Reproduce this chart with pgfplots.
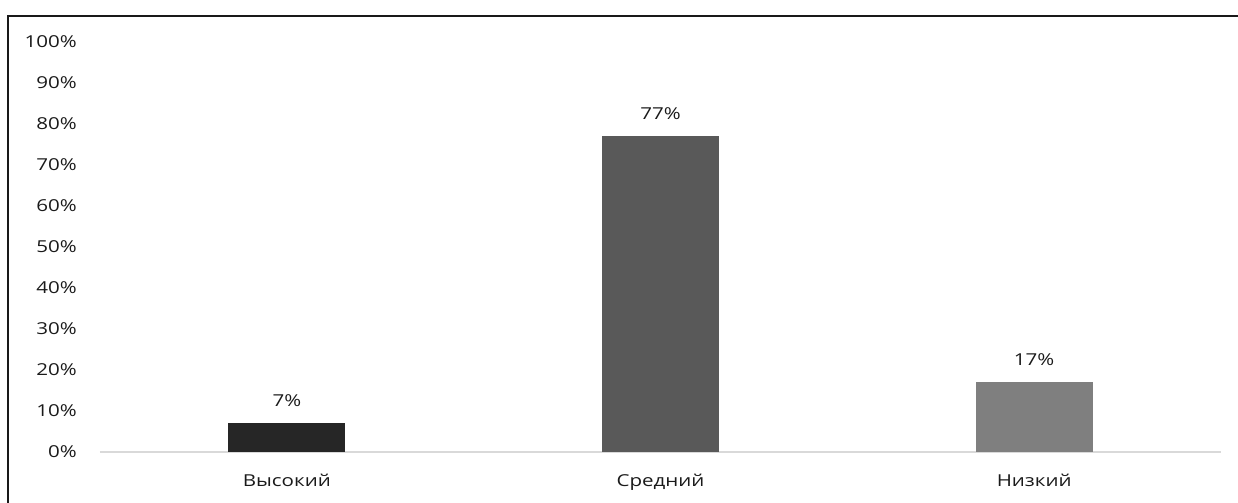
\documentclass[border=0pt]{standalone}
\usepackage{fontspec}
\setmainfont[FakeStretch=1.25]{Open Sans}
\usepackage{pgfplots}
\pgfplotsset{compat=1.18}
\definecolor{barA}{HTML}{262626}
\definecolor{barB}{HTML}{595959}
\definecolor{barC}{HTML}{7F7F7F}
\definecolor{baseline}{HTML}{D9D9D9}
\definecolor{txt}{HTML}{1A1A1A}
\newcommand{\lblfont}{\fontsize{16.5}{19}\selectfont}
\begin{document}
\begin{tikzpicture}[x=1bp,y=1bp]
\useasboundingbox (-100,-51) rectangle (1138,452);
% chart frame
\draw[line width=1.6bp, color=black!90] (-91.7,-60) -- (-91.7,436.2) -- (1150,436.2);
\begin{axis}[
  at={(0,0)}, anchor=south west,
  scale only axis,
  width=1121bp, height=410bp,
  xmin=-0.5, xmax=2.5,
  ymin=0, ymax=100,
  ybar, bar width=117bp, bar shift=0pt,
  axis x line*=bottom,
  axis y line*=left,
  x axis line style={-, draw=baseline, line width=1.2bp},
  y axis line style={draw=none},
  major tick length=0pt,
  xtick={0,1,2},
  xticklabels={Высокий,Средний,Низкий},
  ytick={0,10,...,100},
  yticklabels={0\%,10\%,20\%,30\%,40\%,50\%,60\%,70\%,80\%,90\%,100\%},
  x tick label style={font=\lblfont, text=txt, inner sep=0pt, anchor=north, yshift=-22bp},
  y tick label style={font=\lblfont, text=txt, inner sep=0pt, anchor=east, xshift=-23bp},
  /pgf/number format/assume math mode=true,
  nodes near coords={\pgfmathprintnumber{\pgfplotspointmeta}\%},
  every node near coord/.append style={font=\lblfont, text=txt, inner sep=0pt, anchor=south, yshift=16bp},
  clip=false,
]
\addplot[fill=barA, draw=none] coordinates {(0,7)};
\addplot[fill=barB, draw=none] coordinates {(1,77)};
\addplot[fill=barC, draw=none] coordinates {(2,17)};
\end{axis}
\end{tikzpicture}
\end{document}
